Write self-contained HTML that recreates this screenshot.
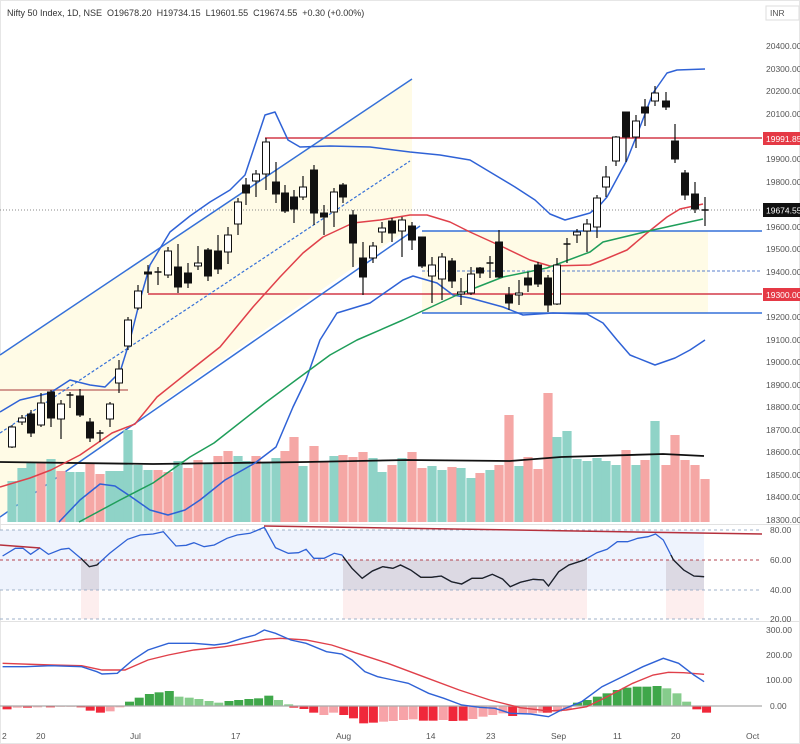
<!DOCTYPE html>
<html><head><meta charset="utf-8"><style>
html,body{margin:0;padding:0;background:#fff;}
svg{display:block;font-family:"Liberation Sans",sans-serif;}
</style></head><body>
<svg id="s" width="800" height="744" viewBox="0 0 800 744" xmlns="http://www.w3.org/2000/svg">
<rect x="0" y="0" width="800" height="744" fill="#fff"/>
<rect x="0.5" y="0.5" width="799" height="743" fill="none" stroke="#e6e6e6"/>
<g id="bg"></g>
<g id="vol"></g>
<g id="lines"></g>
<g id="cand"></g>
<g id="rsi"></g>
<g id="macd"></g>
<g font-size="8.5" fill="#555">
<text x="7" y="16" font-size="9" fill="#333">Nifty 50 Index, 1D, NSE&#160; O19678.20&#160; H19734.15&#160; L19601.55&#160; C19674.55&#160; +0.30 (+0.00%)</text>
<rect x="766" y="6" width="33" height="14" fill="#fff" stroke="#ddd"/>
<text x="770" y="16">INR</text>
<text x="766" y="49">20400.00</text>
<text x="766" y="72">20300.00</text>
<text x="766" y="94">20200.00</text>
<text x="766" y="117">20100.00</text>
<text x="766" y="162">19900.00</text>
<text x="766" y="185">19800.00</text>
<text x="766" y="230">19600.00</text>
<text x="766" y="252">19500.00</text>
<text x="766" y="275">19400.00</text>
<text x="766" y="320">19200.00</text>
<text x="766" y="343">19100.00</text>
<text x="766" y="365">19000.00</text>
<text x="766" y="388">18900.00</text>
<text x="766" y="410">18800.00</text>
<text x="766" y="433">18700.00</text>
<text x="766" y="455">18600.00</text>
<text x="766" y="478">18500.00</text>
<text x="766" y="500">18400.00</text>
<text x="766" y="523">18300.00</text>
<rect x="763" y="132" width="37" height="13" fill="#e53945"/>
<text x="766" y="142" fill="#fff">19991.85</text>
<rect x="763" y="203" width="37" height="14" fill="#111"/>
<text x="766" y="213.5" fill="#fff">19674.55</text>
<rect x="763" y="288" width="37" height="13" fill="#e53945"/>
<text x="766" y="298" fill="#fff">19300.00</text>
<text x="770" y="533">80.00</text>
<text x="770" y="563">60.00</text>
<text x="770" y="593">40.00</text>
<text x="770" y="622">20.00</text>
<text x="766" y="633">300.00</text>
<text x="766" y="658">200.00</text>
<text x="766" y="683">100.00</text>
<text x="770" y="709">0.00</text>
<text x="2" y="739">2</text>
<text x="36" y="739">20</text>
<text x="130" y="739">Jul</text>
<text x="231" y="739">17</text>
<text x="336" y="739">Aug</text>
<text x="426" y="739">14</text>
<text x="486" y="739">23</text>
<text x="551" y="739">Sep</text>
<text x="613" y="739">11</text>
<text x="671" y="739">20</text>
<text x="746" y="739">Oct</text>
</g>
</svg>
<script>
var NS="http://www.w3.org/2000/svg";
function el(g,t,a){var e=document.createElementNS(NS,t);for(var k in a)e.setAttribute(k,a[k]);document.getElementById(g).appendChild(e);return e;}
function P(p){return "M"+p.map(function(q){return q[0]+" "+q[1]}).join(" L");}
// background fills
el("bg","polygon",{points:"0,355 412,79 412,226 0,517",fill:"#fffbe6"});
el("bg","rect",{x:422,y:231,width:286,height:82,fill:"#fffbe6"});
el("bg","line",{x1:0,y1:210,x2:762,y2:210,stroke:"#888","stroke-dasharray":"1,2","stroke-width":1});
el("bg","line",{x1:0,y1:390,x2:128,y2:390,stroke:"#d49a90","stroke-width":2});
el("bg","line",{x1:148,y1:294,x2:762,y2:294,stroke:"#d33a49","stroke-width":1.5});
el("bg","line",{x1:265,y1:138,x2:762,y2:138,stroke:"#d33a49","stroke-width":1.5});
el("bg","line",{x1:422,y1:231,x2:762,y2:231,stroke:"#3570d8","stroke-width":1.5});
el("bg","line",{x1:422,y1:313,x2:762,y2:313,stroke:"#3570d8","stroke-width":1.5});
el("bg","line",{x1:422,y1:271,x2:762,y2:271,stroke:"#5a7fcc","stroke-width":1,"stroke-dasharray":"3,2"});
el("bg","line",{x1:0,y1:355,x2:412,y2:79,stroke:"#3570d8","stroke-width":1.5});
el("bg","line",{x1:0,y1:517,x2:420,y2:226,stroke:"#3570d8","stroke-width":1.5});
el("bg","line",{x1:0,y1:433,x2:410,y2:161,stroke:"#3570d8","stroke-width":1.2,"stroke-dasharray":"3,2"});
el("bg","line",{x1:0,y1:524.5,x2:800,y2:524.5,stroke:"#e2e2e2"});
el("bg","line",{x1:0,y1:621.5,x2:800,y2:621.5,stroke:"#e2e2e2"});
// candles
var C=[[12,427,447,425,448,0],[22,418,422,415,425,0],[31,414,433,410,437,1],[41,403,425,393,427,0],[51,392,418,390,427,1],[61,404,419,400,439,0],[70,395,396,392,408,2],[80,396,415,389,417,1],[90,422,438,418,442,1],[100,433,434,430,442,2],[110,404,419,402,427,0],[119,369,383,360,393,0],[128,320,346,317,350,0],[138,291,308,285,310,0],[148,272,274,265,293,1],[158,272,273,267,285,2],[168,251,275,247,278,0],[178,267,287,244,293,1],[188,273,283,263,288,1],[198,263,266,246,270,0],[208,250,276,248,281,1],[218,251,269,235,274,1],[228,235,252,227,264,0],[238,202,224,198,235,0],[246,185,193,178,205,1],[256,174,181,170,197,0],[266,142,174,138,190,0],[276,182,194,162,203,1],
[285,193,211,185,213,1],[294,197,209,190,223,1],[303,187,197,176,200,0],[314,170,213,165,225,1],[324,213,217,205,235,1],[334,192,212,188,227,0],[343,185,197,183,203,1],[353,215,243,210,267,1],[363,258,277,242,295,1],[373,246,258,242,263,0],[382,228,232,222,243,0],[392,221,233,218,242,1],[402,220,231,217,257,0],[412,226,240,222,250,1],[422,237,266,237,268,1],[432,265,276,257,303,0],[442,257,279,253,300,0],[452,261,281,258,288,1],[461,292,294,278,305,0],[471,274,293,267,295,0],[480,268,273,267,278,1],[490,263,264,256,278,2],[499,242,277,230,278,1],[509,295,303,287,310,1],[519,293,295,280,305,0],[528,278,285,272,292,1],[538,265,284,262,287,1],[548,278,305,275,312,1],[557,265,304,258,305,0],[567,244,245,238,263,2],[577,232,235,229,243,0],[587,224,231,219,252,0],
[597,198,227,195,238,0],[606,177,187,166,197,0],[616,137,161,136,166,0],[626,112,137,112,162,1],[636,121,137,115,148,0],[645,107,113,99,126,1],[655,93,101,86,106,0],[666,101,107,92,110,1],[675,141,159,124,163,1],[685,173,195,170,200,1],[695,194,209,182,213,1],[705,210,211,197,226,2]];
// volumes
var V=[["T",481],["T",468],["T",463],["S",462],["T",459],["S",471],["T",472],["T",472],["S",463],["S",474],["T",471],["T",471],["T",430],["T",465],["T",470],["S",470],["S",472],["T",461],["S",468],["S",460],["T",463],["S",456],["S",451],["T",456],["T",461],["S",456],["T",463],["T",458],["S",451],["S",437],["T",466],["S",446],["S",462],["T",456],["S",455],["S",457],["S",452],["T",458],["T",472],["S",465],["T",458],["S",452],["S",468],["T",466],["T",470],["S",467],["T",468],["T",478],["S",473],["T",470],["S",465],["S",415],["T",466],["S",457],["S",469],["S",393],["T",437],["T",431],["T",459],["T",461],["T",458],["T",461],["T",465],["S",450],["T",465],["S",460],["T",421],["S",465],["S",435],["S",460],["S",465],["S",479]];
for(var i=0;i<72;i++){var x=C[i][0];el("vol","rect",{x:x-4.6,y:V[i][1],width:9.2,height:522-V[i][1],fill:V[i][0]=="T"?"#8fd3c7":"#f5a7a5"});}
el("vol","polyline",{points:"0,462 153,464 306,462 408,460 510,461 561,457 663,454 704,456",fill:"none",stroke:"#111","stroke-width":1.8});
// MAs & bands
function L(p,c,w){el("lines","path",{d:P(p),fill:"none",stroke:c,"stroke-width":w||1.5,"stroke-linejoin":"round"});}
L([[0,412],[20,400],[50,393],[70,380],[90,385],[105,387],[120,372],[130,340],[140,300],[150,265],[170,232],[190,216],[210,202],[230,190],[245,175],[255,145],[265,115],[275,112],[288,140],[300,147],[330,146],[370,147],[410,152],[440,155],[470,160],[490,172],[515,187],[535,200],[550,214],[565,220],[590,213],[600,205],[607,197],[627,160],[640,127],[653,93],[667,73],[677,70],[705,69]],"#2f62d6");
L([[59,522],[80,500],[100,484],[115,486],[130,496],[150,510],[168,515],[185,510],[200,500],[225,480],[255,463],[276,447],[293,407],[306,380],[320,340],[337,313],[370,303],[403,280],[413,276],[437,283],[453,295],[470,298],[503,307],[523,315],[553,313],[587,314],[603,323],[617,340],[630,355],[655,365],[675,358],[690,350],[705,340]],"#2f62d6");
L([[0,487],[30,478],[51,470],[80,455],[112,433],[135,424],[157,397],[187,373],[220,347],[253,307],[280,277],[303,253],[323,237],[353,223],[380,220],[410,215],[427,215],[450,222],[470,232],[503,247],[530,260],[550,266],[590,265],[603,260],[627,250],[647,233],[667,217],[680,209],[703,204]],"#e0404a");
L([[79,522],[120,500],[153,483],[190,457],[214,443],[265,403],[296,380],[330,355],[357,340],[403,320],[457,295],[503,277],[547,268],[590,252],[603,242],[653,230],[703,219]],"#1f9e5a");
for(var i=0;i<72;i++){var c=C[i],x=c[0];
 el("cand","line",{x1:x,y1:c[3],x2:x,y2:c[4],stroke:"#111","stroke-width":1.2});
 if(c[5]==2){el("cand","line",{x1:x-3.5,y1:c[1],x2:x+3.5,y2:c[1],stroke:"#111","stroke-width":1.5});}
 else el("cand","rect",{x:x-3.5,y:c[1],width:7,height:Math.max(1,c[2]-c[1]),fill:c[5]?"#111":"#fff",stroke:"#111","stroke-width":1});}
// RSI
el("rsi","rect",{x:0,y:530,width:704,height:60,fill:"#eef3fd"});
[[81,99],[343,587],[666,704]].forEach(function(r){el("rsi","rect",{x:r[0],y:560,width:r[1]-r[0],height:30,fill:"#dcd9e3"});el("rsi","rect",{x:r[0],y:590,width:r[1]-r[0],height:29,fill:"#fdeeee"});});
[[530,"#9fb0c8"],[560,"#b5434f"],[590,"#9fb0c8"],[619,"#9fb0c8"]].forEach(function(d){el("rsi","line",{x1:0,y1:d[0],x2:762,y2:d[0],stroke:d[1],"stroke-dasharray":"3,3","stroke-width":1});});
var R=[[5,108],[30,85],[45,85],[60,103],[78,84],[95,103],[120,88],[135,85],[160,117],[175,140],[190,135],[215,100],[250,58],[275,45],[300,42],[320,35],[345,78],[365,76],[380,68],[400,80],[420,75],[445,55],[465,45],[490,40],[518,22],[540,83],[565,100],[585,98],[600,88],[615,115],[635,115],[655,100],[670,105],[690,145],[710,175],[730,153],[750,140],[770,145],[785,135],[805,150],[825,172],[845,172],[865,168],[885,185],[905,192],[925,175],[945,175],[965,163],[985,177],[1000,200],[1020,187],[1045,178],[1065,180],[1075,198],[1095,155],[1115,135],[1145,120],[1170,98],[1190,88],[1210,65],[1230,65],[1250,55],[1270,50],[1285,42],[1300,60],[1320,120],[1340,150],[1360,168],[1380,170]].map(function(q){return [+(q[0]/1.96).toFixed(1),+(q[1]/3+520).toFixed(1)]});
var d=P(R);
el("rsi","path",{d:d,fill:"none",stroke:"#2f62d6","stroke-width":1.3});
var cp=el("rsi","clipPath",{id:"cl"});
[[81,99],[343,587],[666,706]].forEach(function(r){var e=document.createElementNS(NS,"rect");e.setAttribute("x",r[0]);e.setAttribute("y",555);e.setAttribute("width",r[1]-r[0]);e.setAttribute("height",40);cp.appendChild(e);});
el("rsi","path",{d:d,fill:"none",stroke:"#222","stroke-width":1.3,"clip-path":"url(#cl)"});
el("rsi","line",{x1:264,y1:526,x2:762,y2:534,stroke:"#b5303c","stroke-width":1.5});
el("rsi","line",{x1:0,y1:545,x2:40,y2:548,stroke:"#b5303c","stroke-width":1.5});
// MACD
var H=[[5,568,"D"],[25,563,"L"],[45,563,"D"],[65,562,"L"],[90,562,"D"],[110,560,"L"],[130,560,"L"],[150,562,"D"],[168,572,"D"],[188,578,"D"],[207,574,"L"],[226,562,"L"],
[245,545,"G"],[264,533,"G"],[284,522,"G"],[303,517,"G"],[323,513,"G"],[342,530,"g"],[362,533,"g"],[381,537,"g"],[401,543,"g"],[420,548,"g"],[440,543,"G"],[459,540,"G"],[479,537,"G"],[498,535,"G"],[518,527,"G"],[537,540,"g"],[557,553,"g"],
[567,563,"D"],[587,567,"D"],[606,578,"D"],[626,585,"L"],[645,578,"L"],[665,585,"D"],[684,595,"D"],[704,610,"D"],[723,608,"D"],[743,605,"L"],[762,603,"L"],[782,600,"L"],[801,598,"L"],[821,602,"D"],[840,602,"D"],[860,600,"L"],[879,603,"D"],[899,602,"D"],[918,597,"L"],[938,590,"L"],[957,585,"L"],[977,580,"L"],[996,588,"D"],[1016,580,"L"],[1035,580,"L"],[1055,578,"L"],[1064,578,"D"],[1084,575,"L"],[1103,568,"L"],
[1123,548,"G"],[1142,540,"G"],[1162,530,"G"],[1181,520,"G"],[1201,510,"G"],[1220,503,"G"],[1240,500,"G"],[1259,500,"G"],[1279,498,"G"],[1298,505,"g"],[1318,520,"g"],[1337,545,"g"],[1357,568,"D"],[1376,578,"D"]];
var col={D:"#f0283a",L:"#f7a3a8",G:"#3fa74a",g:"#86cc8c"};
H.forEach(function(h){var x=h[0]/1.96,y=h[1]/3+520;el("macd","rect",{x:x,y:Math.min(y,706),width:9,height:Math.max(0.8,Math.abs(706-y)),fill:col[h[2]]});});
el("macd","line",{x1:0,y1:706,x2:762,y2:706,stroke:"#aaa","stroke-width":1.3});
function M(a,c){el("macd","path",{d:P(a.map(function(q){return [+(q[0]/1.96).toFixed(1),+(q[1]/3+520).toFixed(1)]})),fill:"none",stroke:c,"stroke-width":1.4});}
M([[5,430],[100,435],[160,437],[200,450],[245,450],[290,420],[330,405],[380,390],[440,380],[480,370],[520,358],[550,355],[600,360],[650,375],[700,400],[760,430],[830,470],[900,510],[960,540],[1020,563],[1075,573],[1110,570],[1150,560],[1190,530],[1240,490],[1280,465],[1310,457],[1340,458],[1380,463]],"#e0404a");
M([[5,440],[50,440],[100,437],[160,440],[190,455],[200,462],[230,460],[260,420],[290,390],[330,370],[380,370],[420,375],[445,370],[475,355],[500,345],[518,330],[540,340],[570,360],[600,370],[640,395],[670,402],[690,420],[715,455],[740,470],[770,480],[800,490],[840,520],[870,535],[905,555],[940,562],[970,565],[1000,580],[1040,582],[1075,590],[1100,570],[1140,545],[1180,500],[1220,470],[1260,440],[1300,415],[1330,430],[1360,465],[1380,485]],"#2f62d6");
</script>
</body></html>
